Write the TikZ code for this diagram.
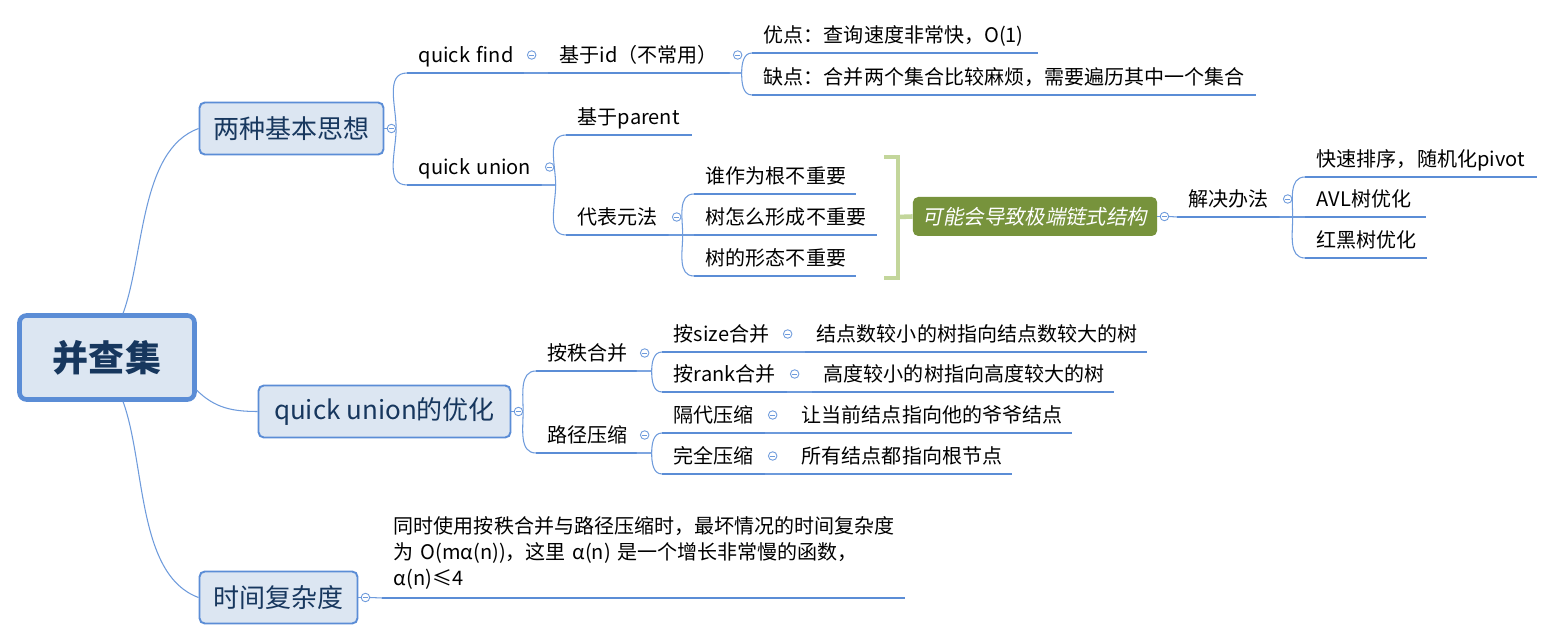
\documentclass[tikz,border=0pt]{standalone}
\usepackage{fontspec}
\setmainfont{Noto Sans CJK SC}
\newfontfamily\slantfont[FakeSlant=0.2]{Noto Sans CJK SC}
\usepackage{tikz}
\usetikzlibrary{positioning}
\definecolor{mmblue}{RGB}{91,141,214}
\definecolor{mmline}{RGB}{110,155,220}
\definecolor{mmfill}{RGB}{220,230,242}
\definecolor{mmnavy}{RGB}{23,55,94}
\definecolor{mmgreen}{RGB}{119,147,60}
\definecolor{mmlight}{RGB}{195,214,155}
\tikzstyle{rootbox} = [rectangle, rounded corners=4pt, draw=mmblue, line width=2.6pt, fill=mmfill,
    minimum width=3.5cm, minimum height=1.68cm, text=mmnavy, font=\fontsize{20.5}{24}\selectfont\bfseries]
\tikzstyle{mainbox} = [rectangle, rounded corners=3pt, draw=mmblue, line width=1.1pt, fill=mmfill,
    minimum height=1.04cm, text=mmnavy, font=\fontsize{14.8}{18}\selectfont]
\tikzstyle{chainbox} = [rectangle, rounded corners=3pt, fill=mmgreen, text=white, inner xsep=0.2cm,
    minimum width=4.8cm, minimum height=0.78cm, font=\slantfont\fontsize{11.6}{15}\selectfont]
\tikzstyle{topic} = [anchor=south west, inner xsep=0.23cm, inner ysep=0.11cm, text depth=0.1cm,
    align=left, text=black, font=\fontsize{11.4}{14.8}\selectfont]
\tikzstyle{uline} = [draw=mmblue, line width=1.7pt]
\tikzstyle{link} = [draw=mmline, line width=0.6pt]
\tikzstyle{bracket} = [draw=mmlight, line width=2.6pt]
\tikzstyle{fold} = [circle, draw=mmline, line width=0.5pt, fill=white, inner sep=0pt, minimum size=0.17cm,
    path picture={\draw[mmline, line width=0.5pt] ([xshift=-0.045cm]path picture bounding box.center)
    -- ([xshift=0.045cm]path picture bounding box.center);}]

\begin{document}
\begin{tikzpicture}[x=0.02cm, y=-0.02cm]
\fill[white] (0,0) rectangle (1555,641);
\useasboundingbox (0,0) rectangle (1555,641);
% central topic and main branches
\node[rootbox] (root) at (107,357.5) {并查集};
\node[mainbox, minimum width=3.68cm] (two) at (291.5,128.5) {两种基本思想};
\node[mainbox, minimum width=5.04cm] (opt) at (384.5,411.5) {quick union的优化};
\node[mainbox, minimum width=3.16cm] (cost) at (278.5,597.5) {时间复杂度};
% quick find
\node[topic, text width=1.86cm] (qf) at (407,73) {quick~find};
\node[topic, text width=3.16cm] (qfid) at (548,73) {基于id（不常用）};
\node[topic, text width=5.24cm] (pro) at (752,53) {优点：查询速度非常快，O(1)};
\node[topic, text width=9.60cm] (con) at (752,95) {缺点：合并两个集合比较麻烦，需要遍历其中一个集合};
% quick union
\node[topic, text width=2.22cm] (qu) at (407,185) {quick~union};
\node[topic, text width=2.04cm] (par) at (566,135) {基于parent};
\node[topic, text width=1.58cm] (rep) at (566,235) {代表元法};
\node[topic, text width=2.76cm] (r1) at (694,194) {谁作为根不重要};
\node[topic, text width=3.18cm] (r2) at (694,235) {树怎么形成不重要};
\node[topic, text width=2.76cm] (r3) at (694,276) {树的形态不重要};
\node[chainbox] (chain) at (1035,216.5) {可能会导致极端链式结构};
\node[topic, text width=1.58cm] (fix) at (1177,217) {解决办法};
\node[topic, text width=4.16cm] (fix1) at (1305,177) {快速排序，随机化pivot};
\node[topic, text width=1.94cm] (fix2) at (1305,217) {AVL树优化};
\node[topic, text width=1.96cm] (fix3) at (1305,258) {红黑树优化};
% optimisation
\node[topic, text width=1.54cm] (rank) at (536,371) {按秩合并};
\node[topic, text width=1.54cm] (zip) at (536,453) {路径压缩};
\node[topic, text width=1.88cm] (bysize) at (662,352) {按size合并};
\node[topic, text width=6.36cm] (bysizeD) at (805,352) {结点数较小的树指向结点数较大的树};
\node[topic, text width=2.02cm] (byrank) at (662,392) {按rank合并};
\node[topic, text width=5.56cm] (byrankD) at (812,392) {高度较小的树指向高度较大的树};
\node[topic, text width=1.58cm] (half) at (662,433) {隔代压缩};
\node[topic, text width=5.16cm] (halfD) at (790,433) {让当前结点指向他的爷爷结点};
\node[topic, text width=1.58cm] (full) at (662,474) {完全压缩};
\node[topic, text width=3.96cm] (fullD) at (790,474) {所有结点都指向根节点};
% complexity
\node[topic, text width=9.98cm, text depth={}, inner ysep=0.16cm] (bound) at (382,598)
  {同时使用按秩合并与路径压缩时，最坏情况的时间复杂度\\为~O(mα(n))，这里~α(n)~是一个增长非常慢的函数，\\α(n)≤4};

\foreach \n in {qf,qfid,pro,con,qu,par,rep,r1,r2,r3,fix,fix1,fix2,fix3,rank,zip,
    bysize,bysizeD,byrank,byrankD,half,halfD,full,fullD,bound}
  \draw[uline] (\n.south west) -- (\n.south east);

% fold markers
\foreach \n in {qf,qfid,qu,rep,fix,rank,zip,bysize,byrank,half,full}
  \node[fold] (f-\n) at ([shift={(8,-18)}]\n.south east) {};
\foreach \n in {two,opt,cost,chain}
  \node[fold] (f-\n) at ([xshift=0.14cm]\n.east) {};

% links
\draw[link] (root.70) to[out=70,in=200,looseness=0.8] (two.west);
\draw[link] (root.-20) to[out=-45,in=180] (opt.west);
\draw[link] (root.-70) to[out=-70,in=160,looseness=0.8] (cost.west);
\foreach \n in {two,opt,cost,chain}
  \draw[link] (\n.east) -- (f-\n.west);
\foreach \n/\a in {qf/90,qu/-90}
  \draw[link] (f-two.east) to[out=\a,in=180] (\n.south west);
\foreach \n/\a in {rank/90,zip/-90}
  \draw[link] (f-opt.east) to[out=\a,in=180] (\n.south west);
\draw[link] (f-cost.east) -- (bound.south west);
\draw[link] (f-chain.east) -- (fix.south west);
\draw[link] (qf.south east) -- (qfid.south west);
\foreach \n/\a in {pro/90,con/-90}
  \draw[link] (qfid.south east) -- ++(12,0) to[out=\a,in=180] (\n.south west);
\foreach \n/\a in {par/90,rep/-90}
  \draw[link] (qu.south east) -- ++(14,0) to[out=\a,in=180] (\n.south west);
\foreach \n/\a in {r1/90,r2/0,r3/-90}
  \draw[link] (rep.south east) -- ++(14,0) to[out=\a,in=180] (\n.south west);
\foreach \n/\a in {fix1/90,fix2/0,fix3/-90}
  \draw[link] (fix.south east) -- ++(13,0) to[out=\a,in=180] (\n.south west);
\foreach \n/\a in {bysize/90,byrank/-90}
  \draw[link] (rank.south east) -- ++(15,0) to[out=\a,in=180] (\n.south west);
\foreach \n/\a in {half/90,full/-90}
  \draw[link] (zip.south east) -- ++(15,0) to[out=\a,in=180] (\n.south west);
\foreach \n/\m in {bysize/bysizeD,byrank/byrankD,half/halfD,full/fullD}
  \draw[link] (\n.south east) -- (\m.south west);

% summary bracket
\coordinate (brtop) at (884,157);
\coordinate (brbot) at (884,278);
\coordinate (brmid) at (898,217);
\draw[bracket] (brtop) -- ++(14,0) |- (brbot);
\draw[bracket] (brmid) -- (chain.west);
\end{tikzpicture}
\end{document}
